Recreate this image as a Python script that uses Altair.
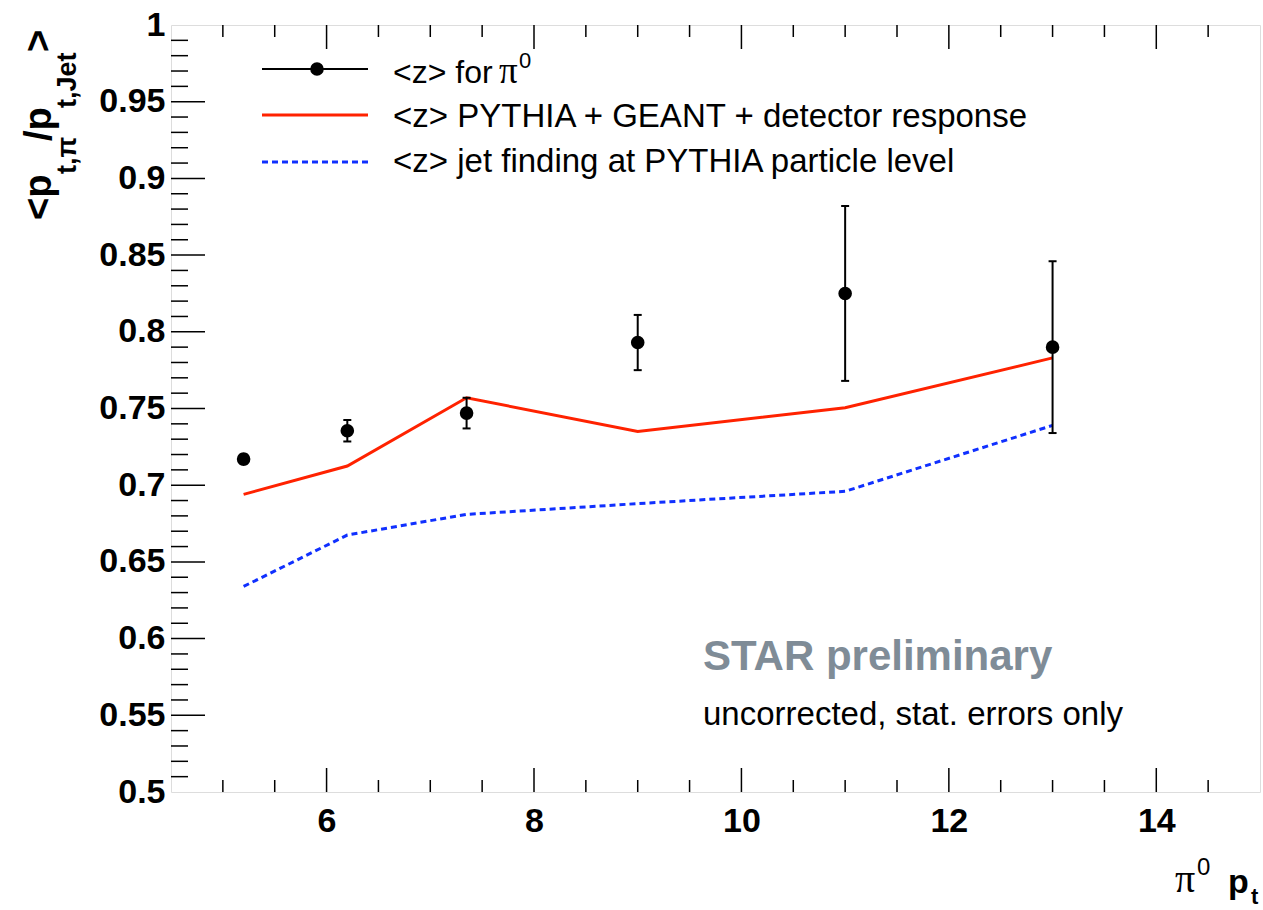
import altair as alt
import pandas as pd
import numpy as np

# ---- data ----
pt = [5.2, 6.2, 7.35, 9.0, 11.0, 13.0]
z_pi0 = [0.717, 0.7355, 0.747, 0.793, 0.825, 0.790]
z_err = [0.003, 0.007, 0.010, 0.018, 0.057, 0.056]
z_det = [0.694, 0.7125, 0.757, 0.735, 0.7505, 0.783]
z_part = [0.634, 0.6675, 0.681, 0.688, 0.696, 0.739]

x_labels = [6, 8, 10, 12, 14]
y_labels = [0.5, 0.55, 0.6, 0.65, 0.7, 0.75, 0.8, 0.85, 0.9, 0.95, 1.0]

W, H = 1089, 767
FONT = "Liberation Sans"
SERIF = "Liberation Serif"
RED = "#ff2200"
BLUE = "#1030ff"

pts = pd.DataFrame({
    "pt": pt, "z": z_pi0,
    "lo": [a - b for a, b in zip(z_pi0, z_err)],
    "hi": [a + b for a, b in zip(z_pi0, z_err)],
})
det = pd.DataFrame({"pt": pt, "z": z_det})
part = pd.DataFrame({"pt": pt, "z": z_part})

ytv = np.round(np.arange(0.51, 1.0, 0.01), 2)
yt = pd.DataFrame({"v": ytv, "major": [abs(v * 20 - round(v * 20)) < 1e-6 for v in ytv]})
xtv = np.arange(5.0, 15.0, 0.5)
xt = pd.DataFrame({"v": xtv, "major": [(v % 2) == 0 for v in xtv]})

xscale = alt.Scale(domain=[4.5, 15], nice=False, zero=False)
yscale = alt.Scale(domain=[0.5, 1.0], nice=False, zero=False)
xaxis = alt.Axis(values=x_labels, format="d", ticks=False, domain=False, grid=False,
                 labelFont=FONT, labelFontSize=34, labelFontWeight="bold", labelColor="black",
                 labelPadding=12, labelOverlap=False, title=None)
yaxis = alt.Axis(values=y_labels, labelExpr="format(datum.value, '.2~f')", ticks=False,
                 domain=False, grid=False, labelFont=FONT, labelFontSize=34,
                 labelFontWeight="bold", labelColor="black", labelPadding=6,
                 labelOverlap=False, title=None)


def X(f):
    return alt.X(f, type="quantitative", scale=xscale, axis=xaxis)


def Y(f):
    return alt.Y(f, type="quantitative", scale=yscale, axis=yaxis)


one = pd.DataFrame({"a": [0]})


def txt(s, x, y, size, font=FONT, weight="normal", color="black", angle=0):
    return alt.Chart(one).mark_text(text=s, font=font, fontSize=size, fontWeight=weight,
                                    color=color, align="left", baseline="alphabetic",
                                    angle=angle).encode(x=alt.value(x), y=alt.value(y))


layers = []

# tick marks (inside the frame)
layers.append(alt.Chart(yt[yt.major]).mark_rule(color="black", strokeWidth=1.5).encode(
    y=Y("v"), x=alt.value(0), x2=alt.value(34)))
layers.append(alt.Chart(yt[~yt.major]).mark_rule(color="black", strokeWidth=1.5).encode(
    y=Y("v"), x=alt.value(0), x2=alt.value(17)))
layers.append(alt.Chart(xt[xt.major]).mark_rule(color="black", strokeWidth=1.5).encode(
    x=X("v"), y=alt.value(H), y2=alt.value(H - 24)))
layers.append(alt.Chart(xt[~xt.major]).mark_rule(color="black", strokeWidth=1.5).encode(
    x=X("v"), y=alt.value(H), y2=alt.value(H - 12)))
layers.append(alt.Chart(xt[xt.major]).mark_rule(color="black", strokeWidth=1.5).encode(
    x=X("v"), y=alt.value(0), y2=alt.value(24)))
layers.append(alt.Chart(xt[~xt.major]).mark_rule(color="black", strokeWidth=1.5).encode(
    x=X("v"), y=alt.value(0), y2=alt.value(12)))

# curves
layers.append(alt.Chart(part).mark_line(color=BLUE, strokeWidth=3, strokeDash=[6, 4]).encode(
    x=X("pt"), y=Y("z")))
layers.append(alt.Chart(det).mark_line(color=RED, strokeWidth=3).encode(x=X("pt"), y=Y("z")))

# data points with error bars
layers.append(alt.Chart(pts).mark_rule(color="black", strokeWidth=2).encode(
    x=X("pt"), y=Y("lo"), y2=alt.Y2("hi")))
layers.append(alt.Chart(pts).mark_rule(color="black", strokeWidth=2, xOffset=-4, x2Offset=4).encode(
    x=X("pt"), x2=alt.X2("pt"), y=Y("hi")))
layers.append(alt.Chart(pts).mark_rule(color="black", strokeWidth=2, xOffset=-4, x2Offset=4).encode(
    x=X("pt"), x2=alt.X2("pt"), y=Y("lo")))
layers.append(alt.Chart(pts).mark_circle(color="black", size=185, opacity=1).encode(
    x=X("pt"), y=Y("z")))

# legend
layers.append(alt.Chart(one).mark_rule(color="black", strokeWidth=2).encode(
    x=alt.value(91), x2=alt.value(197), y=alt.value(44)))
layers.append(alt.Chart(one).mark_circle(color="black", size=185, opacity=1).encode(
    x=alt.value(146), y=alt.value(44)))
layers.append(alt.Chart(one).mark_rule(color=RED, strokeWidth=3).encode(
    x=alt.value(91), x2=alt.value(197), y=alt.value(90)))
layers.append(alt.Chart(one).mark_rule(color=BLUE, strokeWidth=3, strokeDash=[6, 4]).encode(
    x=alt.value(91), x2=alt.value(197), y=alt.value(137)))
layers.append(txt("<z> for", 222, 58, 32))
layers.append(txt("\u03c0", 328, 58, 37, font=SERIF))
layers.append(txt("0", 348, 43, 22))
layers.append(txt("<z> PYTHIA + GEANT + detector response", 222, 102, 33))
layers.append(txt("<z> jet finding at PYTHIA particle level", 222, 147, 33))

# STAR annotation
layers.append(txt("STAR preliminary", 532, 645, 42, weight="bold", color="#7f8c97"))
layers.append(txt("uncorrected, stat. errors only", 532, 700, 33))

# x title: pi^0 p_t
layers.append(txt("\u03c0", 1004, 867, 40, font=SERIF))
layers.append(txt("0", 1026, 850, 24))
layers.append(txt("p", 1057, 868, 34, weight="bold"))
layers.append(txt("t", 1080, 879, 22, weight="bold"))

# y title: <p_{t,pi}/p_{t,Jet}>
layers.append(txt("<p", -120, 195, 38, weight="bold", angle=270))
layers.append(txt("t,\u03c0", -95, 149, 27, weight="bold", angle=270))
layers.append(txt("/p", -120, 116, 38, weight="bold", angle=270))
layers.append(txt("t,Jet", -95, 83, 27, weight="bold", angle=270))
layers.append(txt(">", -120, 27, 38, weight="bold", angle=270))

chart = alt.layer(*layers).properties(
    width=W, height=H,
    autosize=alt.AutoSizeParams(type="none"),
    padding={"left": 171, "top": 25, "right": 3, "bottom": 118},
).configure_view(stroke="black", strokeWidth=2).configure(background="white")

chart.save("out.html", embed_options={"renderer": "svg", "actions": False})
